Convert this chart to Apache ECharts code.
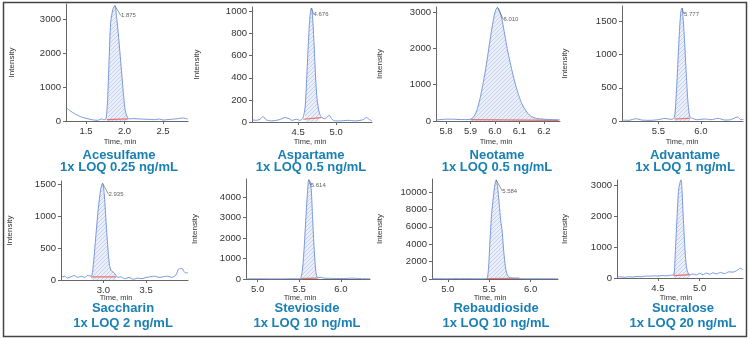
<!DOCTYPE html>
<html>
<head>
<meta charset="utf-8">
<script src="https://cdn.jsdelivr.net/npm/echarts@6/dist/echarts.min.js"></script>
<style>html,body{margin:0;padding:0;background:#fff}#c{width:750px;height:339px}</style>
</head>
<body>
<div id="c"></div>
<script>
// ---------- DATA ----------
const names = ['Acesulfame','Aspartame','Neotame','Advantame','Saccharin','Stevioside','Rebaudioside','Sucralose'];
const loqs = ['1x LOQ 0.25 ng/mL','1x LOQ 0.5 ng/mL','1x LOQ 0.5 ng/mL','1x LOQ 1 ng/mL','1x LOQ 2 ng/mL','1x LOQ 10 ng/mL','1x LOQ 10 ng/mL','1x LOQ 20 ng/mL'];
const peakLabels = ['1.875','4.676','6.010','5.777','2.935','5.614','5.584','4.777'];

const acesulfame = [[1.25,380],[1.30,290],[1.35,220],[1.40,160],[1.45,110],[1.50,80],[1.55,50],[1.60,30],[1.65,20],[1.70,60],[1.73,40],[1.76,60],[1.78,600],[1.80,1800],[1.82,2900],[1.85,3300],[1.875,3400],[1.90,3000],[1.93,2300],[1.96,1500],[1.99,700],[2.01,300],[2.04,100],[2.07,60],[2.10,70],[2.20,60],[2.30,50],[2.40,40],[2.45,60],[2.50,30],[2.60,50],[2.70,70],[2.75,90],[2.82,60]];
const aspartame = [[3.90,20],[3.95,15],[4.00,25],[4.04,50],[4.08,20],[4.15,10],[4.25,20],[4.33,40],[4.38,30],[4.42,15],[4.48,25],[4.52,15],[4.56,30],[4.59,120],[4.61,350],[4.63,650],[4.65,900],[4.667,1020],[4.676,1030],[4.69,950],[4.71,700],[4.73,400],[4.75,200],[4.78,80],[4.81,40],[4.85,30],[4.88,45],[4.91,60],[4.94,30],[4.98,10],[5.05,10],[5.15,15],[5.25,10],[5.35,20],[5.40,40],[5.44,20],[5.47,10]];
const neotame = [[5.76,30],[5.78,40],[5.80,50],[5.83,50],[5.86,40],[5.89,40],[5.90,50],[5.91,90],[5.92,190],[5.93,380],[5.94,650],[5.95,980],[5.96,1350],[5.97,1780],[5.98,2230],[5.99,2650],[6.00,2990],[6.01,3130],[6.02,3020],[6.03,2750],[6.04,2380],[6.05,2000],[6.06,1680],[6.07,1380],[6.08,1100],[6.09,860],[6.10,650],[6.11,480],[6.12,350],[6.13,250],[6.14,170],[6.15,120],[6.17,70],[6.20,50],[6.23,40],[6.265,30]];
const advantame = [[5.07,15],[5.15,10],[5.24,35],[5.30,15],[5.40,10],[5.50,20],[5.58,40],[5.62,30],[5.66,25],[5.69,60],[5.71,400],[5.73,900],[5.75,1400],[5.765,1650],[5.777,1700],[5.79,1550],[5.81,1150],[5.83,650],[5.85,250],[5.87,60],[5.90,40],[5.95,20],[6.05,30],[6.12,20],[6.20,40],[6.28,15],[6.35,20],[6.43,60],[6.47,20],[6.50,25]];
const saccharin = [[2.51,40],[2.55,60],[2.58,30],[2.62,50],[2.66,70],[2.70,40],[2.74,60],[2.78,40],[2.82,70],[2.86,60],[2.88,200],[2.91,650],[2.94,1100],[2.97,1420],[2.99,1510],[3.01,1350],[3.03,950],[3.05,550],[3.07,250],[3.09,150],[3.12,120],[3.15,70],[3.17,40],[3.20,50],[3.25,20],[3.30,40],[3.35,10],[3.40,30],[3.45,20],[3.50,40],[3.55,50],[3.60,60],[3.65,40],[3.70,50],[3.75,60],[3.80,40],[3.85,80],[3.88,170],[3.92,180],[3.95,120],[3.99,110]];
const stevioside = [[4.86,10],[5.00,10],[5.20,5],[5.40,10],[5.50,15],[5.52,60],[5.54,500],[5.56,1600],[5.58,3000],[5.60,4300],[5.614,4840],[5.63,4750],[5.645,4300],[5.66,3000],[5.68,1400],[5.70,350],[5.72,60],[5.76,80],[5.80,40],[5.90,30],[6.00,20],[6.15,40],[6.25,15],[6.35,10]];
const rebaudioside = [[4.81,40],[5.00,30],[5.20,40],[5.40,30],[5.47,60],[5.49,1000],[5.51,4500],[5.53,7500],[5.55,9400],[5.57,10900],[5.584,11400],[5.60,10700],[5.62,8700],[5.64,6600],[5.655,5600],[5.67,3800],[5.69,1800],[5.71,700],[5.73,300],[5.75,150],[5.80,100],[5.86,80],[5.90,40],[6.00,30],[6.20,30],[6.33,30]];
const sucralose = [[4.01,20],[4.05,40],[4.10,20],[4.15,40],[4.20,30],[4.25,50],[4.30,40],[4.35,60],[4.40,60],[4.45,70],[4.50,60],[4.55,80],[4.60,70],[4.65,90],[4.69,100],[4.71,900],[4.73,2000],[4.75,2900],[4.777,3190],[4.79,2800],[4.80,2200],[4.816,1340],[4.83,700],[4.848,270],[4.88,100],[4.92,130],[4.96,100],[5.00,150],[5.04,110],[5.08,160],[5.12,120],[5.16,170],[5.20,130],[5.25,180],[5.30,140],[5.35,200],[5.40,190],[5.45,250],[5.49,320],[5.52,260]];
const traces = [acesulfame, aspartame, neotame, advantame, saccharin, stevioside, rebaudioside, sucralose];

// integration baselines [start,end] as [x,y] pairs
const baselines = [
  [[1.77,40],[2.05,60]],
  [[4.57,25],[4.80,40]],
  [[5.90,40],[6.26,15]],
  [[5.69,30],[5.87,40]],
  [[2.86,50],[3.15,50]],
  [[5.52,20],[5.72,40]],
  [[5.47,60],[5.86,80]],
  [[4.69,80],[4.88,110]]
];
// peak apex [x,y]
const apexes = [[1.875,3400],[4.676,1030],[6.01,3130],[5.777,1700],[2.99,1510],[5.614,4840],[5.584,11400],[4.777,3190]];

// axis ranges and tick labels
const xMins = [1.24,3.895,5.759,5.072,2.505,4.86,4.81,4.01];
const xMaxs = [2.825,5.47,6.266,6.495,3.99,6.35,6.33,5.52];
const xTicks = [[1.5,2.0,2.5],[4.5,5.0],[5.8,5.9,6.0,6.1,6.2],[5.5,6.0],[3.0,3.5],[5.0,5.5,6.0],[5.0,5.5,6.0],[4.5,5.0]];
const yMaxs = [3450,1040,3140,1730,1545,4880,11500,3180];
const yTicks = [[0,1000,2000,3000],[0,200,400,600,800,1000],[0,1000,2000,3000],[0,500,1000,1500],[0,500,1000,1500],[0,1000,2000,3000,4000],[0,2000,4000,6000,8000,10000],[0,1000,2000,3000]];

// ---------- LAYOUT (pixels) ----------
const layout = [
  {left:66, top:4, width:122, height:117, nameGap:50, tx:120, t1:119, ty:142, l1:155, l2:167, dx:6, dy:10},
  {left:252, top:7, width:120, height:115, nameGap:51, tx:310, t1:311, ty:142, l1:155, l2:167, dx:2, dy:6},
  {left:436, top:7, width:124, height:114, nameGap:52, tx:496, t1:497, ty:142, l1:155, l2:167, dx:6, dy:12},
  {left:622, top:6, width:121, height:115, nameGap:53, tx:682, t1:685, ty:142, l1:155, l2:167, dx:2, dy:6},
  {left:61, top:181, width:127, height:99, nameGap:47, tx:116, t1:123, ty:298, l1:308, l2:323, dx:6, dy:11},
  {left:246, top:179, width:124, height:100, nameGap:47, tx:300, t1:307, ty:298, l1:308, l2:323, dx:2, dy:6},
  {left:432, top:179, width:126, height:100, nameGap:48, tx:490, t1:496, ty:298, l1:308, l2:323, dx:6, dy:11},
  {left:617, top:180, width:126, height:98, nameGap:48, tx:676, t1:683, ty:298, l1:308, l2:323, dx:6, dy:10}
];

function hatch(){
  const c=document.createElement('canvas'); c.width=4; c.height=4;
  const g=c.getContext('2d');
  g.fillStyle='#eaeff9'; g.fillRect(0,0,4,4);
  g.fillStyle='#c3cfee'; g.fillRect(0,0,1,1); g.fillRect(2,2,1,1); g.fillRect(1,3,1,1); g.fillRect(3,1,1,1);
  return c;
}
const pattern = {image: hatch(), repeat:'repeat'};

const FONT = "'Liberation Sans', Arial, sans-serif";
const TITLE = '#1a80b4';
const grid=[], xAxis=[], yAxis=[], series=[], graphic=[];

for (let i=0;i<8;i++){
  const L = layout[i];
  grid.push({left:L.left, top:L.top, width:L.width, height:L.height, containLabel:false});
  xAxis.push({type:'value', gridIndex:i, min:xMins[i], max:xMaxs[i],
    axisLine:{show:true, onZero:false, lineStyle:{color:'#666', width:1}},
    axisTick:{show:true, length:3, customValues:xTicks[i], lineStyle:{color:'#666'}},
    axisLabel:{customValues:xTicks[i], formatter:v=>v.toFixed(1), fontSize:9.5, color:'#333', margin:5, fontFamily:FONT},
    splitLine:{show:false}});
  yAxis.push({type:'value', gridIndex:i, min:0, max:yMaxs[i],
    name:'Intensity', nameLocation:'middle', nameGap:L.nameGap, nameRotate:90,
    nameTextStyle:{fontSize:8, color:'#333', fontFamily:FONT},
    axisLine:{show:true, lineStyle:{color:'#666', width:1}},
    axisTick:{show:true, length:3, customValues:yTicks[i], lineStyle:{color:'#666'}},
    axisLabel:{customValues:yTicks[i], formatter:v=>String(v), fontSize:9.5, color:'#333', margin:5, fontFamily:FONT},
    splitLine:{show:false}});
  const b = baselines[i];
  const peakPart = traces[i].filter(p=>p[0]>=b[0][0] && p[0]<=b[1][0]);
  series.push({type:'line', xAxisIndex:i, yAxisIndex:i, data:peakPart, showSymbol:false, silent:true, smooth:0.25,
    lineStyle:{width:0}, areaStyle:{color:pattern, opacity:1}, z:1});
  series.push({type:'line', xAxisIndex:i, yAxisIndex:i, data:b, showSymbol:false, silent:true,
    lineStyle:{color:'#e8706c', width:1.2}, z:2});
  series.push({type:'line', xAxisIndex:i, yAxisIndex:i, data:traces[i], showSymbol:false, silent:true, smooth:0.25,
    lineStyle:{color:'#7898dc', width:1}, z:3});
  series.push({type:'scatter', xAxisIndex:i, yAxisIndex:i, data:[apexes[i]], symbolSize:0, silent:true,
    label:{show:true, position:'right', formatter:peakLabels[i], fontSize:6, color:'#333', fontFamily:FONT, distance:0},
    labelLayout:{dx:L.dx, dy:L.dy},
    labelLine:{show:true, lineStyle:{color:'#555', width:0.6}}, z:4});
  graphic.push({type:'text', x:L.tx, y:L.ty, style:{text:'Time, min', fill:'#333', font:'7.5px '+FONT, textAlign:'center', textVerticalAlign:'middle'}});
  graphic.push({type:'text', x:L.t1, y:L.l1, style:{text:names[i], fill:TITLE, font:'bold 13px '+FONT, textAlign:'center', textVerticalAlign:'middle'}});
  graphic.push({type:'text', x:L.t1, y:L.l2, style:{text:loqs[i], fill:TITLE, font:'bold 13px '+FONT, textAlign:'center', textVerticalAlign:'middle'}});
}
graphic.push({type:'rect', shape:{x:3.5, y:2.5, width:743, height:334}, style:{fill:null, stroke:'#444', lineWidth:1.5}, silent:true});

const chart = echarts.init(document.getElementById('c'), null, {renderer:'canvas'});
chart.setOption({animation:false, backgroundColor:'#fff', grid, xAxis, yAxis, series, graphic});
</script>
</body>
</html>
